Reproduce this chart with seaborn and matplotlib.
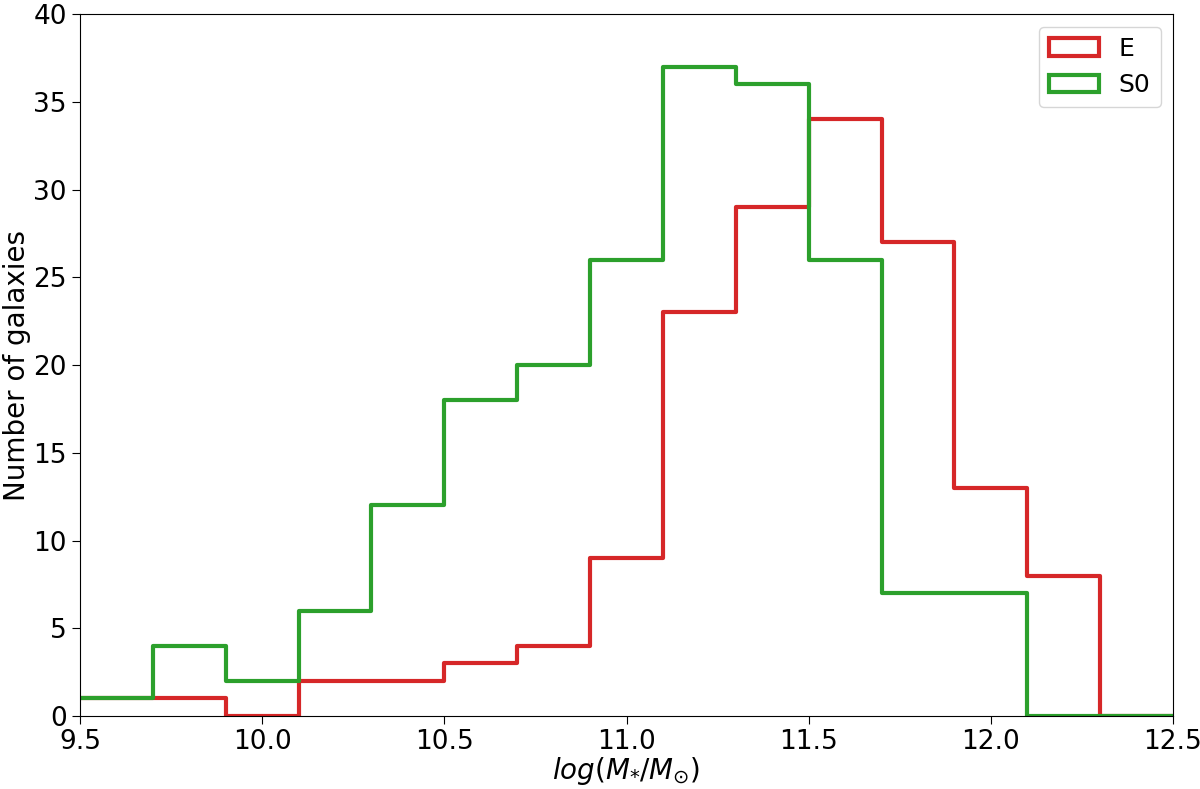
import numpy as np
import pandas as pd
import matplotlib
matplotlib.use("Agg")
import matplotlib.pyplot as plt
from matplotlib.patches import Patch
import seaborn as sns

# bin edges and counts
edges = [9.5, 9.7, 9.9, 10.1, 10.3, 10.5, 10.7, 10.9, 11.1, 11.3, 11.5, 11.7, 11.9, 12.1, 12.3, 12.5]
counts_E = [1, 1, 0, 2, 2, 3, 4, 9, 23, 29, 34, 27, 13, 8, 0]
counts_S0 = [1, 4, 2, 6, 12, 18, 20, 26, 37, 36, 26, 7, 7, 0, 0]

centers = [(a + b) / 2 for a, b in zip(edges[:-1], edges[1:])]
df_E = pd.DataFrame({"mass": centers, "n": counts_E})
df_S0 = pd.DataFrame({"mass": centers, "n": counts_S0})

red = "#d62728"
green = "#2ca02c"

fig = plt.figure(figsize=(12, 7.89), dpi=100)
ax = fig.add_axes([0.0667, 0.0925, 0.9108, 0.8895])

sns.histplot(data=df_E, x="mass", weights="n", bins=edges, element="step",
             fill=False, color=red, linewidth=3, ax=ax)
sns.histplot(data=df_S0, x="mass", weights="n", bins=edges, element="step",
             fill=False, color=green, linewidth=3, ax=ax)

ax.set_xlim(9.5, 12.5)
ax.set_ylim(0, 40)
ax.set_xticks(np.arange(9.5, 12.51, 0.5))
ax.tick_params(labelsize=19, length=6)
ax.set_xlabel(r"$log(M_{*}/M_{\odot})$", fontsize=20, labelpad=0)
ax.set_ylabel("Number of galaxies", fontsize=20, labelpad=2)

handles = [Patch(facecolor="none", edgecolor=red, linewidth=3, label="E"),
           Patch(facecolor="none", edgecolor=green, linewidth=3, label="S0")]
ax.legend(handles=handles, loc="upper right", fontsize=18)

fig.savefig("out.png", dpi=100)
